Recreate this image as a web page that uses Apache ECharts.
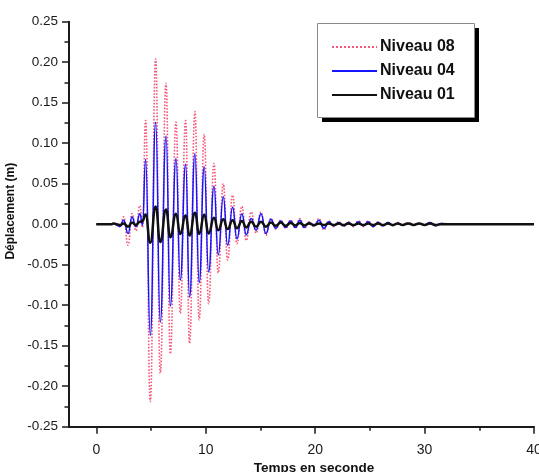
<!DOCTYPE html>
<html>
<head>
<meta charset="utf-8">
<script src="https://cdn.jsdelivr.net/npm/echarts@6/dist/echarts.min.js"></script>
<style>html,body{margin:0;padding:0;background:#fff;}#c{width:539px;height:472px;}</style>
</head>
<body>
<div id="c"></div>
<script>
var seriesNames = ['Niveau 08', 'Niveau 04', 'Niveau 01'];
var xTicks = [0, 10, 20, 30, 40];
var xMinorTicks = [5, 15, 25, 35];
var times = [0, 1.4, 1.6, 1.85, 2.15, 2.5, 2.9, 3.26, 3.62, 3.98, 4.22,
  4.5, 4.93, 5.42, 5.84, 6.37, 6.76, 7.28, 7.67, 8.16, 8.52, 9.01, 9.4, 9.86, 10.26, 10.75, 11.14, 11.6, 12.0, 12.45, 12.85, 13.3, 13.7, 14.15, 14.6,
  15.05, 15.5, 15.95, 16.4, 16.85, 17.3, 17.75, 18.2, 18.6, 19.0, 19.45, 19.9, 20.35, 20.8, 21.25, 21.7, 22.15, 22.6, 23.05, 23.5, 23.95, 24.4, 24.85, 25.3,
  25.75, 26.2, 26.65, 27.1, 27.55, 28.0, 28.5, 29.0, 29.5, 30.0, 30.5, 31.0, 31.5, 32.5, 34, 36, 38, 40];
var niveau08 = [0, 0, 0.002, -0.001, -0.003, 0.009, -0.026, 0.013, -0.008, 0.023, -0.004,
  0.128, -0.219, 0.204, -0.184, 0.174, -0.160, 0.126, -0.110, 0.128, -0.147, 0.139, -0.118, 0.111, -0.098, 0.075, -0.060, 0.050, -0.044, 0.036, -0.024, 0.022, -0.020, 0.015, -0.011,
  0.015, -0.0135, 0.007, -0.006, 0.005, -0.005, 0.005, -0.005, 0.007, -0.005, 0.003, -0.003, 0.007, -0.007, 0.004, -0.003, 0.003, -0.003, 0.003, -0.003, 0.004, -0.003, 0.004, -0.003,
  0.003, -0.002, 0.002, -0.002, 0.002, -0.001, 0.002, -0.001, 0.001, -0.001, 0.002, -0.002, 0.001, 0, 0, 0, 0, 0];
var niveau04 = [0, 0, 0.001, -0.001, -0.003, 0.005, -0.0115, 0.009, -0.003, 0.013, -0.001,
  0.080, -0.137, 0.126, -0.121, 0.109, -0.101, 0.081, -0.069, 0.074, -0.090, 0.087, -0.072, 0.071, -0.059, 0.047, -0.038, 0.034, -0.026, 0.021, -0.018, 0.013, -0.013, 0.007, -0.0075,
  0.013, -0.0115, 0.006, -0.005, 0.004, -0.004, 0.004, -0.004, 0.005, -0.004, 0.002, -0.002, 0.005, -0.005, 0.003, -0.002, 0.002, -0.002, 0.002, -0.002, 0.003, -0.002, 0.003, -0.003,
  0.002, -0.002, 0.002, -0.001, 0.001, -0.001, 0.001, -0.001, 0.001, -0.001, 0.002, -0.002, 0.001, 0, 0, 0, 0, 0];
var niveau01 = [0, 0, 0.001, 0, -0.001, 0.001, -0.003, 0.002, -0.001, 0.003, 0.004,
  0.012, -0.023, 0.022, -0.022, 0.018, -0.016, 0.013, -0.012, 0.011, -0.014, 0.014, -0.012, 0.012, -0.0115, 0.008, -0.0075, 0.006, -0.006, 0.005, -0.005, 0.004, -0.004, 0.003, -0.003,
  0.003, -0.003, 0.002, -0.002, 0.002, -0.002, 0.0015, -0.0015, 0.0015, -0.0015, 0.001, -0.001, 0.001, -0.001, 0.001, -0.001, 0.001, -0.001, 0.001, -0.001, 0.001, -0.001, 0.001, -0.001,
  0.001, -0.001, 0.001, -0.001, 0.001, -0.001, 0.001, -0.001, 0.001, -0.001, 0.001, -0.001, 0, 0, 0, 0, 0, 0];

function pairs(vals) { return times.map(function (t, i) { return [t, vals[i]]; }); }

var FONT = "'Liberation Sans', Arial, sans-serif";
var chart = echarts.init(document.getElementById('c'), null, { renderer: 'canvas' });
chart.setOption({
  animation: false,
  backgroundColor: '#ffffff',
  grid: { left: 69, right: 5, top: 21.7, bottom: 45.3, containLabel: false, outerBoundsMode: 'none' },
  graphic: [
    { type: 'rect', z: 0, silent: true, shape: { x: 322, y: 28, width: 157, height: 94 }, style: { fill: '#000000' } },
    { type: 'rect', z: 1, silent: true, shape: { x: 317.5, y: 23.5, width: 157, height: 94 }, style: { fill: '#ffffff', stroke: '#8a8a8a', lineWidth: 1 } }
  ],
  legend: {
    data: seriesNames,
    orient: 'vertical',
    left: 316, top: 23,
    padding: [16, 17, 13, 15],
    itemWidth: 45, itemHeight: 16, itemGap: 8,
    itemStyle: { opacity: 0, borderWidth: 0 },
    textStyle: { fontFamily: FONT, fontSize: 16, fontWeight: 'bold', color: '#111', padding: [0, 0, 0, -2] },
    z: 10
  },
  xAxis: [{
    type: 'value', min: -2.5, max: 40, position: 'bottom',
    name: 'Temps en seconde', nameLocation: 'middle', nameGap: 32,
    nameTextStyle: { fontFamily: FONT, fontSize: 13.5, fontWeight: 'bold', color: '#111', padding: [0, 0, 0, 25] },
    axisLine: { onZero: false, lineStyle: { color: '#1a1a1a', width: 2 } },
    axisTick: { show: true, length: 7, customValues: xTicks, lineStyle: { color: '#1a1a1a', width: 1.5 } },
    axisLabel: { customValues: xTicks, margin: 16, fontFamily: FONT, fontSize: 14, color: '#1a1a1a' },
    splitLine: { show: false }
  }, {
    type: 'value', min: -2.5, max: 40, position: 'bottom', gridIndex: 0,
    axisLine: { show: false, onZero: false },
    axisTick: { show: true, length: 4, customValues: xMinorTicks, lineStyle: { color: '#1a1a1a', width: 1.5 } },
    axisLabel: { show: false },
    splitLine: { show: false }
  }],
  yAxis: {
    type: 'value', min: -0.25, max: 0.25, interval: 0.05,
    name: 'Déplacement (m)', nameLocation: 'middle', nameGap: 49, nameRotate: 90,
    nameTextStyle: { fontFamily: FONT, fontSize: 12, fontWeight: 'bold', color: '#111', padding: [0, 0, 0, 26] },
    axisLine: { show: true, onZero: false, lineStyle: { color: '#1a1a1a', width: 2 } },
    axisTick: { show: true, length: 7, lineStyle: { color: '#1a1a1a', width: 1.5 } },
    minorTick: { show: true, splitNumber: 2, length: 4.5, lineStyle: { color: '#1a1a1a', width: 1.5 } },
    axisLabel: {
      margin: 11, fontFamily: FONT, fontSize: 13.5, color: '#1a1a1a',
      formatter: function (v) { return Math.abs(v) < 1e-9 ? '0.00' : v.toFixed(2); }
    },
    splitLine: { show: false }
  },
  series: [
    { name: seriesNames[0], type: 'line', data: pairs(niveau08), showSymbol: false, symbol: 'none', smooth: 0.5, smoothMonotone: 'x',
      lineStyle: { color: '#f4587a', width: 1.6, type: 'dotted' }, itemStyle: { color: '#f4587a' }, z: 2 },
    { name: seriesNames[1], type: 'line', data: pairs(niveau04), showSymbol: false, symbol: 'none', smooth: 0.5, smoothMonotone: 'x',
      lineStyle: { color: '#1414ff', width: 1.5, type: 'solid' }, itemStyle: { color: '#1414ff' }, z: 3 },
    { name: seriesNames[2], type: 'line', data: pairs(niveau01), showSymbol: false, symbol: 'none', smooth: 0.5, smoothMonotone: 'x',
      lineStyle: { color: '#111111', width: 2.5, type: 'solid' }, itemStyle: { color: '#111111' }, z: 4 }
  ]
});
</script>
</body>
</html>
